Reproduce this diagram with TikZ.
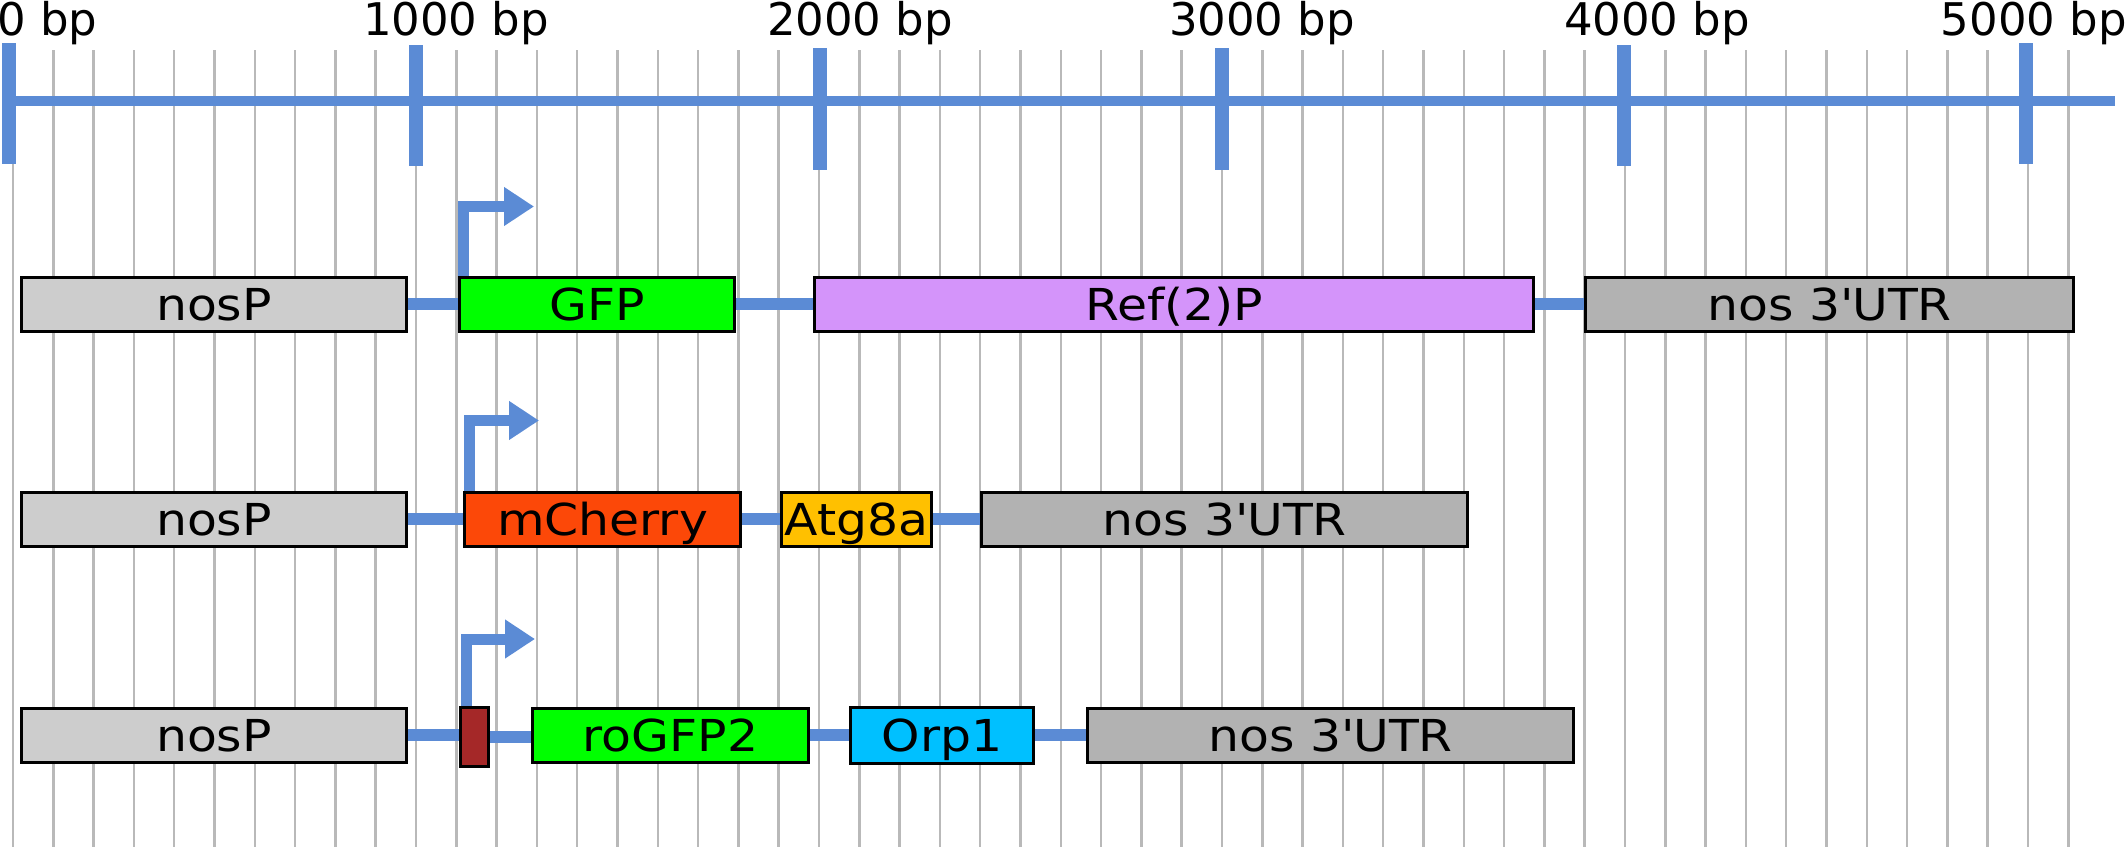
\documentclass[tikz,border=0pt]{standalone}
\usepackage{fontspec}
\setmainfont{DejaVu Sans}
\newfontfamily\genefam[FakeStretch=1.11]{DejaVu Sans}
\usetikzlibrary{arrows.meta}
\definecolor{rulerblue}{RGB}{91,139,213}
\definecolor{gridgray}{RGB}{185,185,185}
\definecolor{promgray}{RGB}{205,205,205}
\definecolor{utrgray}{RGB}{178,178,178}
\definecolor{gfpgreen}{RGB}{0,255,0}
\definecolor{refviolet}{RGB}{212,148,250}
\definecolor{cherry}{RGB}{252,72,8}
\definecolor{atggold}{RGB}{255,192,0}
\definecolor{sigred}{RGB}{165,40,40}
\definecolor{orpblue}{RGB}{0,192,255}
\begin{document}
\begin{tikzpicture}[x=1pt,y=-1pt,
  gene/.style={draw=black, line width=3pt, inner sep=0pt, minimum height=54pt,
    text height=32pt, text depth=0pt, font=\genefam\fontsize{44}{53}\selectfont},
  link/.style={draw=rulerblue, line width=12pt},
  prom/.style={draw=rulerblue, line width=11pt, -{Triangle[length=30pt,width=37pt]}},
  gridline/.style={draw=gridgray, line width=2.5pt},
  ruler/.style={draw=rulerblue, line width=10pt},
  majortick/.style={draw=rulerblue, line width=14pt},
  scalelabel/.style={font=\fontsize{45}{54}\selectfont, inner sep=0pt}
]
\useasboundingbox (0,0) rectangle (2125,847);
% grid
\foreach \k in {0,...,51} \draw[gridline] ({13+40.3*\k},50) -- ({13+40.3*\k},847);
% ruler
\draw[ruler] (9,101) -- (2115,101);
\foreach \t/\a/\b in {9/43/164,416/45/166,820/48/170,1222/48/170,1624/45/166,2026/43/164}
  \draw[majortick] (\t,\a) -- (\t,\b);
\node[scalelabel, anchor=base west] (l0) at (-3,35) {0 bp};
\node[scalelabel, anchor=base] (l1) at (456,35) {1000 bp};
\node[scalelabel, anchor=base] (l2) at (860,35) {2000 bp};
\node[scalelabel, anchor=base] (l3) at (1262,35) {3000 bp};
\node[scalelabel, anchor=base] (l4) at (1657,35) {4000 bp};
\node[scalelabel, anchor=base east] (l5) at (2127,35) {5000 bp};
% row 1
\node[gene, fill=promgray, minimum width=385pt] (p1) at (214,304) {nosP};
\node[gene, fill=gfpgreen, minimum width=275pt] (gfp) at (597,304) {GFP};
\node[gene, fill=refviolet, minimum width=719pt] (ref) at (1174,304) {Ref(2)P};
\node[gene, fill=utrgray, minimum width=488pt] (u1) at (1829.5,304) {nos 3\textquotesingle UTR};
\draw[link] (p1.east) -- (p1.east -| gfp.west);
\draw[link] (gfp.east) -- (gfp.east -| ref.west);
\draw[link] (ref.east) -- (ref.east -| u1.west);
\draw[prom] ([xshift=5pt]gfp.north west) |- ++(71,-69);
% row 2
\node[gene, fill=promgray, minimum width=385pt] (p2) at (214,519) {nosP};
\node[gene, fill=cherry, minimum width=276pt] (mch) at (602.5,519) {mCherry};
\node[gene, fill=atggold, minimum width=150pt] (atg) at (856.5,519) {Atg8a};
\node[gene, fill=utrgray, minimum width=486pt] (u2) at (1224.5,519) {nos 3\textquotesingle UTR};
\draw[link] (p2.east) -- (p2.east -| mch.west);
\draw[link] (mch.east) -- (mch.east -| atg.west);
\draw[link] (atg.east) -- (atg.east -| u2.west);
\draw[prom] ([xshift=6pt]mch.north west) |- ++(70,-70);
% row 3
\node[gene, fill=promgray, minimum width=385pt] (p3) at (214,735) {nosP};
\node[gene, fill=sigred, minimum width=28pt, minimum height=59pt] (sig) at (474.5,737) {};
\node[gene, fill=gfpgreen, minimum width=276pt] (ro) at (670.5,735) {roGFP2};
\node[gene, fill=orpblue, minimum width=183pt, minimum height=56pt] (orp) at (942,735) {Orp1};
\node[gene, fill=utrgray, minimum width=486pt] (u3) at (1330.5,735) {nos 3\textquotesingle UTR};
\draw[link] (p3.east) -- (p3.east -| sig.west);
\draw[link] (sig.east) -- (sig.east -| ro.west);
\draw[link] (ro.east) -- (ro.east -| orp.west);
\draw[link] (orp.east) -- (orp.east -| u3.west);
\draw[prom] ([xshift=7pt]sig.north west) |- ++(69,-67);
\end{tikzpicture}
\end{document}
